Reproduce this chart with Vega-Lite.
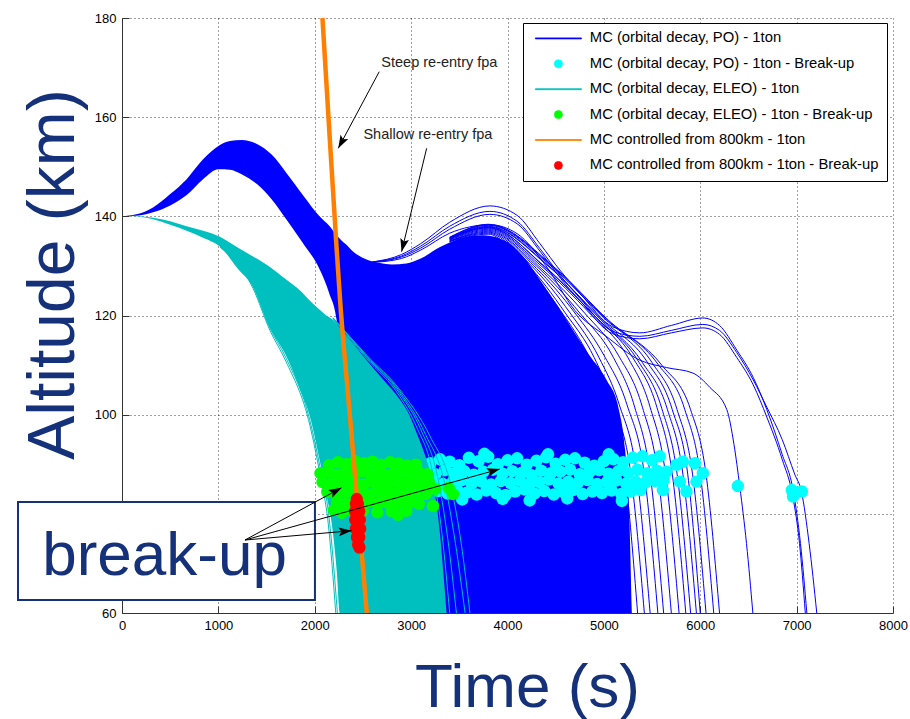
{
  "$schema": "https://vega.github.io/schema/vega-lite/v6.json",
  "width": 771,
  "height": 595,
  "autosize": {"type": "none"},
  "padding": {"left": 122, "top": 18, "right": 17, "bottom": 106},
  "background": "white",
  "config": {
    "view": {"stroke": null},
    "axis": {
      "domainColor": "#333", "domainWidth": 1,
      "tickColor": "#333", "tickWidth": 1, "tickSize": -7,
      "labelFont": "Liberation Sans", "labelFontSize": 13, "labelColor": "#000",
      "labelPadding": 13, "labelOverlap": false, "labelFlush": false,
      "grid": true, "gridColor": "#000", "gridDash": [1, 3], "gridWidth": 1, "gridOpacity": 0.75,
      "titleFont": "Liberation Sans", "titleFontSize": 62, "titleFontWeight": "normal", "titleColor": "#14317A"
    }
  },
  "datasets": {
    "poArea": [
      {"t":0,"a":140,"b":140},{"t":150,"a":140.4,"b":140.1},{"t":322,"a":141.8,"b":140.8},{"t":500,"a":144.5,"b":142.2},
      {"t":671,"a":147.5,"b":144.3},{"t":841,"a":151.5,"b":147.5},{"t":1000,"a":154.2,"b":149.5},{"t":1120,"a":155.2,"b":149.4},
      {"t":1241,"a":155.4,"b":148.5},{"t":1400,"a":154.6,"b":146.5},{"t":1550,"a":152.5,"b":143.5},{"t":1708,"a":148.7,"b":139.3},
      {"t":1880,"a":144.2,"b":134.5},{"t":2054,"a":139.9,"b":129.2},{"t":2150,"a":138.1,"b":124.5},{"t":2227,"a":136.2,"b":119.1},
      {"t":2280,"a":135.1,"b":90},{"t":2320,"a":134.4,"b":60},{"t":2397,"a":132.9,"b":60},{"t":2550,"a":131.2,"b":60},
      {"t":2676,"a":130.6,"b":60},{"t":2800,"a":130.3,"b":60},{"t":2950,"a":130.5,"b":60},{"t":3100,"a":131.5,"b":60},
      {"t":3300,"a":133.8,"b":60},{"t":3500,"a":135.5,"b":60},{"t":3750,"a":136.2,"b":60},{"t":4000,"a":134.8,"b":60},
      {"t":4200,"a":131,"b":60},{"t":4336,"a":127.2,"b":60},{"t":4500,"a":122.5,"b":60},{"t":4678,"a":117.1,"b":60},
      {"t":4850,"a":112,"b":60},{"t":5028,"a":107,"b":60},{"t":5150,"a":101.5,"b":60},{"t":5220,"a":93,"b":60},
      {"t":5260,"a":82,"b":60},{"t":5290,"a":60,"b":60}
    ],
    "poLines": [
      {"id":"L1","t":2600,"a":130.8},{"id":"L1","t":2900,"a":132.3},{"id":"L1","t":3100,"a":134.5},{"id":"L1","t":3400,"a":138.8},{"id":"L1","t":3817,"a":142.1},{"id":"L1","t":4100,"a":140.2},{"id":"L1","t":4336,"a":134.5},{"id":"L1","t":4550,"a":129},{"id":"L1","t":4751,"a":124.5},{"id":"L1","t":5093,"a":117.7},{"id":"L1","t":5373,"a":116.5},{"id":"L1","t":5700,"a":118},{"id":"L1","t":6027,"a":119.5},{"id":"L1","t":6200,"a":118},{"id":"L1","t":6380,"a":113},{"id":"L1","t":6550,"a":107.5},{"id":"L1","t":6691,"a":101},{"id":"L1","t":6850,"a":92},{"id":"L1","t":6963,"a":84.8},{"id":"L1","t":7040,"a":74},{"id":"L1","t":7106,"a":60},
      {"id":"L2","t":2600,"a":130.8},{"id":"L2","t":2900,"a":132},{"id":"L2","t":3100,"a":134},{"id":"L2","t":3400,"a":138},{"id":"L2","t":3817,"a":141},{"id":"L2","t":4100,"a":139},{"id":"L2","t":4336,"a":133.5},{"id":"L2","t":4550,"a":128},{"id":"L2","t":4751,"a":123.5},{"id":"L2","t":5093,"a":116.8},{"id":"L2","t":5373,"a":115.8},{"id":"L2","t":5700,"a":117},{"id":"L2","t":6027,"a":118.2},{"id":"L2","t":6200,"a":117},{"id":"L2","t":6380,"a":112.5},{"id":"L2","t":6550,"a":107},{"id":"L2","t":6691,"a":101.5},{"id":"L2","t":6850,"a":95},{"id":"L2","t":6980,"a":88},{"id":"L2","t":7050,"a":84.5},{"id":"L2","t":7130,"a":74},{"id":"L2","t":7209,"a":60},
      {"id":"L3","t":2600,"a":130.8},{"id":"L3","t":2900,"a":131.8},{"id":"L3","t":3100,"a":133.6},{"id":"L3","t":3400,"a":137.4},{"id":"L3","t":3817,"a":140.4},{"id":"L3","t":4100,"a":138.5},{"id":"L3","t":4336,"a":133},{"id":"L3","t":4550,"a":127.5},{"id":"L3","t":4751,"a":123},{"id":"L3","t":5093,"a":116.3},{"id":"L3","t":5373,"a":115.3},{"id":"L3","t":5700,"a":116.5},{"id":"L3","t":6027,"a":117.5},{"id":"L3","t":6200,"a":116.2},{"id":"L3","t":6380,"a":111.5},{"id":"L3","t":6550,"a":106},{"id":"L3","t":6691,"a":99.5},{"id":"L3","t":6850,"a":91},{"id":"L3","t":6960,"a":83.5},{"id":"L3","t":7030,"a":74},{"id":"L3","t":7090,"a":60},
      {"id":"L4","t":2600,"a":130.7},{"id":"L4","t":2900,"a":131.5},{"id":"L4","t":3100,"a":133.2},{"id":"L4","t":3400,"a":136.6},{"id":"L4","t":3817,"a":138.3},{"id":"L4","t":4100,"a":136.5},{"id":"L4","t":4400,"a":130},{"id":"L4","t":4700,"a":121},{"id":"L4","t":5031,"a":115.7},{"id":"L4","t":5373,"a":111},{"id":"L4","t":5650,"a":109.5},{"id":"L4","t":5923,"a":108.4},{"id":"L4","t":6100,"a":105.5},{"id":"L4","t":6276,"a":101},{"id":"L4","t":6350,"a":94},{"id":"L4","t":6411,"a":85.4},{"id":"L4","t":6480,"a":74},{"id":"L4","t":6546,"a":60},
      {"id":"M1","t":3400,"a":135},{"id":"M1","t":3800,"a":136.6},{"id":"M1","t":4200,"a":130.5},{"id":"M1","t":4600,"a":120.5},{"id":"M1","t":4900,"a":111.5},{"id":"M1","t":5100,"a":102},{"id":"M1","t":5280,"a":88},{"id":"M1","t":5420,"a":60},
      {"id":"M2","t":3400,"a":135},{"id":"M2","t":3800,"a":136.8},{"id":"M2","t":4250,"a":130},{"id":"M2","t":4650,"a":120.5},{"id":"M2","t":4950,"a":111.5},{"id":"M2","t":5160,"a":102},{"id":"M2","t":5340,"a":88},{"id":"M2","t":5480,"a":60},
      {"id":"M3","t":3400,"a":135},{"id":"M3","t":3800,"a":137},{"id":"M3","t":4300,"a":129.5},{"id":"M3","t":4700,"a":120.5},{"id":"M3","t":5000,"a":112},{"id":"M3","t":5240,"a":102},{"id":"M3","t":5420,"a":88},{"id":"M3","t":5560,"a":60},
      {"id":"M4","t":3400,"a":135.2},{"id":"M4","t":3800,"a":137.2},{"id":"M4","t":4300,"a":130},{"id":"M4","t":4750,"a":120.5},{"id":"M4","t":5100,"a":111.5},{"id":"M4","t":5320,"a":101.5},{"id":"M4","t":5480,"a":88},{"id":"M4","t":5620,"a":60},
      {"id":"M5","t":3400,"a":135.3},{"id":"M5","t":3800,"a":137.4},{"id":"M5","t":4350,"a":129.5},{"id":"M5","t":4800,"a":120.5},{"id":"M5","t":5150,"a":112},{"id":"M5","t":5400,"a":101.5},{"id":"M5","t":5560,"a":88},{"id":"M5","t":5700,"a":60},
      {"id":"M6","t":3400,"a":135.4},{"id":"M6","t":3800,"a":137.6},{"id":"M6","t":4350,"a":130},{"id":"M6","t":4850,"a":120.5},{"id":"M6","t":5250,"a":111.5},{"id":"M6","t":5480,"a":101.5},{"id":"M6","t":5640,"a":88},{"id":"M6","t":5780,"a":60},
      {"id":"M7","t":3400,"a":135.5},{"id":"M7","t":3800,"a":137.8},{"id":"M7","t":4400,"a":129.5},{"id":"M7","t":4900,"a":120},{"id":"M7","t":5300,"a":111.5},{"id":"M7","t":5550,"a":101.5},{"id":"M7","t":5710,"a":88},{"id":"M7","t":5850,"a":60},
      {"id":"M8","t":3400,"a":135.6},{"id":"M8","t":3800,"a":138},{"id":"M8","t":4400,"a":130.5},{"id":"M8","t":4950,"a":119.5},{"id":"M8","t":5400,"a":110.5},{"id":"M8","t":5660,"a":101},{"id":"M8","t":5820,"a":88},{"id":"M8","t":5960,"a":60},
      {"id":"M9","t":3400,"a":135.7},{"id":"M9","t":3800,"a":138.2},{"id":"M9","t":4450,"a":130},{"id":"M9","t":5000,"a":119.5},{"id":"M9","t":5500,"a":110.5},{"id":"M9","t":5760,"a":101},{"id":"M9","t":5920,"a":88},{"id":"M9","t":6060,"a":60},
      {"id":"M10","t":3400,"a":135.8},{"id":"M10","t":3800,"a":138.4},{"id":"M10","t":4500,"a":129.5},{"id":"M10","t":5050,"a":119},{"id":"M10","t":5600,"a":110},{"id":"M10","t":5900,"a":101},{"id":"M10","t":6060,"a":88},{"id":"M10","t":6200,"a":60},
      {"id":"M11","t":3400,"a":135.6},{"id":"M11","t":3800,"a":137.9},{"id":"M11","t":4420,"a":130},{"id":"M11","t":4980,"a":119.2},{"id":"M11","t":5450,"a":110.6},{"id":"M11","t":5710,"a":101},{"id":"M11","t":5870,"a":88},{"id":"M11","t":6000,"a":60},
      {"id":"M12","t":3400,"a":135.5},{"id":"M12","t":3800,"a":137.7},{"id":"M12","t":4380,"a":130},{"id":"M12","t":4920,"a":119.6},{"id":"M12","t":5350,"a":111},{"id":"M12","t":5600,"a":101.3},{"id":"M12","t":5760,"a":88},{"id":"M12","t":5900,"a":60},
      {"id":"M13","t":3400,"a":135.7},{"id":"M13","t":3800,"a":138.3},{"id":"M13","t":4480,"a":129.7},{"id":"M13","t":5030,"a":119.2},{"id":"M13","t":5560,"a":110.2},{"id":"M13","t":5840,"a":101},{"id":"M13","t":6000,"a":88},{"id":"M13","t":6140,"a":60},
      {"id":"M14","t":3400,"a":134.9},{"id":"M14","t":3800,"a":136.4},{"id":"M14","t":4150,"a":130.8},{"id":"M14","t":4550,"a":121},{"id":"M14","t":4850,"a":111.5},{"id":"M14","t":5050,"a":102},{"id":"M14","t":5220,"a":88},{"id":"M14","t":5350,"a":60}
    ],
    "poPts": [
      {"t":3200,"a":90.2},{"t":3300,"a":91.0},{"t":3400,"a":90.5},{"t":3500,"a":89.8},{"t":3600,"a":91.3},{"t":3700,"a":90.6},{"t":3800,"a":91.5},{"t":3900,"a":90.0},{"t":4000,"a":90.8},{"t":4100,"a":91.2},{"t":4200,"a":89.9},{"t":4300,"a":90.7},{"t":4400,"a":91.4},{"t":4500,"a":90.1},{"t":4600,"a":90.9},{"t":4700,"a":91.2},{"t":4800,"a":90.3},{"t":4900,"a":89.7},{"t":5000,"a":90.6},{"t":5100,"a":91.0},{"t":5200,"a":90.4},{"t":5300,"a":91.3},{"t":5400,"a":91.6},{"t":5500,"a":90.8},
      {"t":3150,"a":88.4},{"t":3250,"a":88.0},{"t":3350,"a":88.8},{"t":3450,"a":88.2},{"t":3550,"a":88.6},{"t":3650,"a":87.9},{"t":3750,"a":88.5},{"t":3850,"a":88.9},{"t":3950,"a":88.1},{"t":4050,"a":88.6},{"t":4150,"a":88.3},{"t":4250,"a":87.8},{"t":4350,"a":88.7},{"t":4450,"a":88.2},{"t":4550,"a":88.5},{"t":4650,"a":88.9},{"t":4750,"a":88.0},{"t":4850,"a":88.4},{"t":4950,"a":88.8},{"t":5050,"a":88.1},{"t":5150,"a":88.6},{"t":5250,"a":88.3},{"t":5350,"a":88.9},{"t":5450,"a":88.2},{"t":5550,"a":88.7},
      {"t":3230,"a":86.5},{"t":3330,"a":86.0},{"t":3430,"a":86.4},{"t":3530,"a":86.8},{"t":3630,"a":86.1},{"t":3730,"a":86.5},{"t":3830,"a":85.9},{"t":3930,"a":86.6},{"t":4030,"a":86.2},{"t":4130,"a":86.7},{"t":4230,"a":86.0},{"t":4330,"a":86.4},{"t":4430,"a":86.9},{"t":4530,"a":86.1},{"t":4630,"a":86.5},{"t":4730,"a":86.2},{"t":4830,"a":86.8},{"t":4930,"a":86.0},{"t":5030,"a":86.4},{"t":5130,"a":86.7},{"t":5230,"a":86.1},{"t":5330,"a":86.5},{"t":5430,"a":86.3},{"t":5530,"a":86.6},
      {"t":3280,"a":84.6},{"t":3380,"a":84.1},{"t":3480,"a":84.8},{"t":3580,"a":84.3},{"t":3680,"a":83.9},{"t":3780,"a":84.7},{"t":3880,"a":84.2},{"t":3980,"a":83.8},{"t":4080,"a":84.5},{"t":4180,"a":84.9},{"t":4280,"a":84.1},{"t":4380,"a":84.6},{"t":4480,"a":83.9},{"t":4580,"a":84.4},{"t":4680,"a":84.8},{"t":4780,"a":84.0},{"t":4880,"a":84.5},{"t":4980,"a":84.2},{"t":5080,"a":84.7},{"t":5180,"a":84.0},{"t":5280,"a":84.5},{"t":5380,"a":84.8},
      {"t":3530,"a":82.9},{"t":3950,"a":83.0},{"t":4230,"a":82.7},{"t":4620,"a":83.1},{"t":5187,"a":82.6},{"t":4420,"a":92.0},{"t":3760,"a":92.1},{"t":5050,"a":92.0},
      {"t":5580,"a":91.6},{"t":5612,"a":84.8},{"t":5650,"a":88.5},{"t":5620,"a":86.8},{"t":5754,"a":89.9},{"t":5788,"a":86.5},{"t":5857,"a":84.5},{"t":5820,"a":90.5},{"t":5944,"a":90.2},{"t":5961,"a":86.5},{"t":6027,"a":88.2},{"t":6390,"a":85.6},{"t":6950,"a":84.8},{"t":7054,"a":84.5},{"t":6963,"a":83.5}
    ],
    "eleoArea": [
      {"t":0,"a":140,"b":140},{"t":150,"a":140,"b":139.95},{"t":322,"a":139.7,"b":139.4},{"t":500,"a":139,"b":138.3},
      {"t":671,"a":138,"b":137.1},{"t":841,"a":137.1,"b":135.7},{"t":1016,"a":135.9,"b":133.9},{"t":1200,"a":133.7,"b":129.5},
      {"t":1359,"a":131.9,"b":125.8},{"t":1535,"a":129.8,"b":117.5},{"t":1700,"a":127.3,"b":112},{"t":1850,"a":125,"b":105},
      {"t":1950,"a":123,"b":99.6},{"t":2054,"a":121.1,"b":90.5},{"t":2120,"a":120,"b":84},{"t":2189,"a":119.1,"b":76.1},
      {"t":2230,"a":118.2,"b":68},{"t":2261,"a":117.5,"b":60},{"t":2400,"a":114.3,"b":60},{"t":2538,"a":111,"b":60},
      {"t":2700,"a":107.3,"b":60},{"t":2884,"a":103,"b":60},{"t":2980,"a":100,"b":60},{"t":3057,"a":96.3,"b":60},
      {"t":3150,"a":91.5,"b":60},{"t":3226,"a":86.2,"b":60},{"t":3270,"a":81,"b":60},{"t":3299,"a":76.1,"b":60},
      {"t":3335,"a":68,"b":60},{"t":3368,"a":60,"b":60}
    ],
    "eleoLines": [
      {"id":"C1","t":1016,"a":134},{"id":"C1","t":1359,"a":126},{"id":"C1","t":1535,"a":117.5},{"id":"C1","t":1700,"a":111.5},{"id":"C1","t":1950,"a":98.8},{"id":"C1","t":2054,"a":89.5},{"id":"C1","t":2150,"a":79},{"id":"C1","t":2235,"a":60},
      {"id":"C2","t":1016,"a":133.8},{"id":"C2","t":1359,"a":125.5},{"id":"C2","t":1535,"a":117},{"id":"C2","t":1700,"a":110.8},{"id":"C2","t":1950,"a":97.8},{"id":"C2","t":2054,"a":88},{"id":"C2","t":2140,"a":78},{"id":"C2","t":2218,"a":60},
      {"id":"C3","t":2189,"a":119.2},{"id":"C3","t":2538,"a":111.3},{"id":"C3","t":2884,"a":103.6},{"id":"C3","t":3057,"a":97.5},{"id":"C3","t":3226,"a":88},{"id":"C3","t":3320,"a":76},{"id":"C3","t":3400,"a":60},
      {"id":"C4","t":2189,"a":119.4},{"id":"C4","t":2538,"a":111.6},{"id":"C4","t":2884,"a":104.2},{"id":"C4","t":3100,"a":97},{"id":"C4","t":3280,"a":87},{"id":"C4","t":3380,"a":75},{"id":"C4","t":3470,"a":60},
      {"id":"C5","t":2189,"a":119.5},{"id":"C5","t":2538,"a":111.8},{"id":"C5","t":2884,"a":104.6},{"id":"C5","t":3150,"a":96},{"id":"C5","t":3350,"a":86},{"id":"C5","t":3460,"a":74},{"id":"C5","t":3560,"a":60},
      {"id":"C6","t":2189,"a":119.6},{"id":"C6","t":2538,"a":112},{"id":"C6","t":2884,"a":105},{"id":"C6","t":3200,"a":95.5},{"id":"C6","t":3420,"a":85},{"id":"C6","t":3520,"a":74},{"id":"C6","t":3610,"a":60}
    ],
    "eleoPts": [
      {"t":2150,"a":89.8},{"t":2240,"a":90.4},{"t":2330,"a":90.0},{"t":2420,"a":90.6},{"t":2510,"a":90.2},{"t":2600,"a":90.5},{"t":2690,"a":89.9},{"t":2780,"a":90.4},{"t":2870,"a":90.1},{"t":2960,"a":89.7},{"t":3050,"a":89.9},
      {"t":2060,"a":88.2},{"t":2145,"a":88.5},{"t":2230,"a":87.9},{"t":2315,"a":88.4},{"t":2400,"a":88.0},{"t":2485,"a":88.6},{"t":2570,"a":88.1},{"t":2655,"a":88.4},{"t":2740,"a":87.8},{"t":2825,"a":88.3},{"t":2910,"a":88.6},{"t":2995,"a":88.0},{"t":3080,"a":88.4},{"t":3165,"a":88.0},
      {"t":2080,"a":86.4},{"t":2165,"a":86.0},{"t":2250,"a":86.5},{"t":2335,"a":86.1},{"t":2420,"a":86.3},{"t":2505,"a":85.9},{"t":2590,"a":86.6},{"t":2675,"a":86.2},{"t":2760,"a":86.0},{"t":2845,"a":86.5},{"t":2930,"a":86.1},{"t":3015,"a":86.4},{"t":3100,"a":86.0},{"t":3185,"a":86.3},
      {"t":2130,"a":84.4},{"t":2215,"a":84.0},{"t":2300,"a":84.5},{"t":2385,"a":84.1},{"t":2470,"a":84.3},{"t":2555,"a":83.9},{"t":2640,"a":84.6},{"t":2725,"a":84.2},{"t":2810,"a":84.0},{"t":2895,"a":84.5},{"t":2980,"a":84.1},{"t":3065,"a":84.4},{"t":3150,"a":84.0},
      {"t":2230,"a":82.4},{"t":2315,"a":82.0},{"t":2400,"a":82.3},{"t":2485,"a":81.9},{"t":2570,"a":82.5},{"t":2655,"a":82.1},{"t":2740,"a":82.3},{"t":2825,"a":81.8},{"t":2910,"a":82.2},{"t":2995,"a":82.4},{"t":3080,"a":82.0},
      {"t":2500,"a":80.6},{"t":2650,"a":80.3},{"t":2800,"a":80.5},{"t":2863,"a":79.8},{"t":2950,"a":80.6},{"t":2380,"a":80.8},{"t":2200,"a":80.8},{"t":2280,"a":80.2},
      {"t":3226,"a":81.6},{"t":3434,"a":84.0},{"t":3390,"a":85.2},{"t":3250,"a":85.0}
    ],
    "ctrl": [
      {"t":2080,"a":180},{"t":2155,"a":156},{"t":2227,"a":133.5},{"t":2265,"a":122.5},{"t":2350,"a":103},{"t":2432,"a":84.5},{"t":2470,"a":76},{"t":2540,"a":60}
    ],
    "ctrlPts": [
      {"t":2436,"a":83.0},{"t":2426,"a":82.0},{"t":2448,"a":82.0},{"t":2418,"a":80.5},{"t":2440,"a":80.5},{"t":2462,"a":80.5},{"t":2420,"a":78.8},{"t":2444,"a":78.8},{"t":2468,"a":78.8},{"t":2426,"a":77.0},{"t":2450,"a":77.0},{"t":2472,"a":77.0},{"t":2438,"a":75.3},{"t":2462,"a":75.3},{"t":2450,"a":73.8},{"t":2464,"a":73.2}
    ],
    "arrows": [
      {"t":2669,"a":169.17,"t2":2244,"a2":153.72,"angle":208.2},
      {"t":3161,"a":153.72,"t2":2901,"a2":132.87,"angle":193.6},
      {"t":1276,"a":74.72,"t2":2279,"a2":85.27,"angle":61.6},
      {"t":1276,"a":74.72,"t2":2383,"a2":76.6,"angle":85.0},
      {"t":1276,"a":74.72,"t2":3921,"a2":89.04,"angle":74.4}
    ],
    "notes": [
      {"t":3293,"a":170.98,"label":"Steep re-entry fpa"},
      {"t":3174,"a":156.4,"label":"Shallow re-entry fpa"}
    ],
    "box": [
      {"t":-1079,"t2":2002,"a":82.39,"a2":62.62,"label":"break-up","lt":441,"la":67.67}
    ]
  },
  "layer": [
    {
      "data": {"name": "poArea"},
      "mark": {"type": "area", "interpolate": "monotone", "opacity": 1},
      "encoding": {
        "x": {"field": "t", "type": "quantitative", "scale": {"domain": [0, 8000], "nice": false, "zero": false},
              "axis": {"values": [0,1000,2000,3000,4000,5000,6000,7000,8000], "format": "d", "title": "Time (s)",
                       "titleX": 405, "titleY": 93, "titleAlign": "center", "titleBaseline": "alphabetic"}},
        "y": {"field": "a", "type": "quantitative", "scale": {"domain": [60, 180], "nice": false, "zero": false},
              "axis": {"values": [60,80,100,120,140,160,180], "format": "d", "labelExpr": "datum.value == 80 ? '' : datum.label",
                       "title": "Altitude (km)", "titleFontSize": 66,
                       "titleX": -49, "titleY": 256, "titleAngle": -90, "titleAlign": "center", "titleBaseline": "alphabetic"}},
        "y2": {"field": "b"},
        "color": {
          "datum": "MC (orbital decay, PO) - 1ton", "type": "nominal",
          "scale": {
            "domain": ["MC (orbital decay, PO) - 1ton", "MC (orbital decay, PO) - 1ton - Break-up", "MC (orbital decay, ELEO) - 1ton", "MC (orbital decay, ELEO) - 1ton - Break-up", "MC controlled from 800km - 1ton", "MC controlled from 800km - 1ton - Break-up"],
            "range": ["#0000FF", "#00FFFF", "#00BFBF", "#00FF00", "#FF8000", "#FF0000"]
          },
          "legend": {
            "title": null, "orient": "none", "legendX": 401, "legendY": 5,
            "fillColor": "white", "strokeColor": "#000", "padding": 8, "cornerRadius": 0,
            "symbolOffset": 20, "labelOffset": 24, "rowPadding": 9.4,
            "labelFont": "Liberation Sans", "labelFontSize": 14.8, "labelColor": "#000", "labelLimit": 500,
            "symbolSize": 64, "symbolStrokeWidth": 0.8, "symbolOpacity": 1
          }
        }
      }
    },
    {
      "data": {"name": "poLines"},
      "mark": {"type": "line", "interpolate": "monotone", "strokeWidth": 1},
      "encoding": {
        "x": {"field": "t", "type": "quantitative"},
        "y": {"field": "a", "type": "quantitative"},
        "detail": {"field": "id"},
        "color": {"datum": "MC (orbital decay, PO) - 1ton", "type": "nominal"}
      }
    },
    {
      "data": {"name": "poPts"},
      "mark": {"type": "point", "filled": true, "size": 155, "opacity": 1, "strokeWidth": 0},
      "encoding": {
        "x": {"field": "t", "type": "quantitative"},
        "y": {"field": "a", "type": "quantitative"},
        "color": {"datum": "MC (orbital decay, PO) - 1ton - Break-up", "type": "nominal"},
        "shape": {
          "datum": "MC (orbital decay, PO) - 1ton - Break-up", "type": "nominal",
          "scale": {
            "domain": ["MC (orbital decay, PO) - 1ton", "MC (orbital decay, PO) - 1ton - Break-up", "MC (orbital decay, ELEO) - 1ton", "MC (orbital decay, ELEO) - 1ton - Break-up", "MC controlled from 800km - 1ton", "MC controlled from 800km - 1ton - Break-up"],
            "range": ["M-5.75,-0.12H5.75V0.12H-5.75Z", "circle", "M-5.75,-0.12H5.75V0.12H-5.75Z", "circle", "M-5.75,-0.12H5.75V0.12H-5.75Z", "circle"]
          }
        }
      }
    },
    {
      "data": {"name": "eleoArea"},
      "mark": {"type": "area", "interpolate": "monotone", "opacity": 1},
      "encoding": {
        "x": {"field": "t", "type": "quantitative"},
        "y": {"field": "a", "type": "quantitative"},
        "y2": {"field": "b"},
        "color": {"datum": "MC (orbital decay, ELEO) - 1ton", "type": "nominal"}
      }
    },
    {
      "data": {"name": "eleoLines"},
      "mark": {"type": "line", "interpolate": "monotone", "strokeWidth": 1},
      "encoding": {
        "x": {"field": "t", "type": "quantitative"},
        "y": {"field": "a", "type": "quantitative"},
        "detail": {"field": "id"},
        "color": {"datum": "MC (orbital decay, ELEO) - 1ton", "type": "nominal"}
      }
    },
    {
      "data": {"name": "eleoPts"},
      "mark": {"type": "point", "filled": true, "size": 155, "opacity": 1, "strokeWidth": 0},
      "encoding": {
        "x": {"field": "t", "type": "quantitative"},
        "y": {"field": "a", "type": "quantitative"},
        "color": {"datum": "MC (orbital decay, ELEO) - 1ton - Break-up", "type": "nominal"},
        "shape": {"datum": "MC (orbital decay, ELEO) - 1ton - Break-up", "type": "nominal"}
      }
    },
    {
      "data": {"name": "ctrl"},
      "mark": {"type": "line", "interpolate": "monotone", "strokeWidth": 4.5},
      "encoding": {
        "x": {"field": "t", "type": "quantitative"},
        "y": {"field": "a", "type": "quantitative"},
        "color": {"datum": "MC controlled from 800km - 1ton", "type": "nominal"}
      }
    },
    {
      "data": {"name": "ctrlPts"},
      "mark": {"type": "point", "filled": true, "size": 150, "opacity": 1, "strokeWidth": 0},
      "encoding": {
        "x": {"field": "t", "type": "quantitative"},
        "y": {"field": "a", "type": "quantitative"},
        "color": {"datum": "MC controlled from 800km - 1ton - Break-up", "type": "nominal"},
        "shape": {"datum": "MC controlled from 800km - 1ton - Break-up", "type": "nominal"}
      }
    },
    {
      "data": {"name": "box"},
      "mark": {"type": "rect", "fill": "white", "stroke": "#14317A", "strokeWidth": 2},
      "encoding": {
        "x": {"field": "t", "type": "quantitative"},
        "x2": {"field": "t2"},
        "y": {"field": "a", "type": "quantitative"},
        "y2": {"field": "a2"}
      }
    },
    {
      "data": {"name": "box"},
      "mark": {"type": "text", "font": "Liberation Sans", "fontSize": 62, "color": "#14317A", "align": "center", "baseline": "alphabetic"},
      "encoding": {
        "x": {"field": "lt", "type": "quantitative"},
        "y": {"field": "la", "type": "quantitative"},
        "text": {"field": "label"}
      }
    },
    {
      "data": {"name": "arrows"},
      "mark": {"type": "rule", "color": "#000", "strokeWidth": 1},
      "encoding": {
        "x": {"field": "t", "type": "quantitative"},
        "y": {"field": "a", "type": "quantitative"},
        "x2": {"field": "t2"},
        "y2": {"field": "a2"}
      }
    },
    {
      "data": {"name": "arrows"},
      "mark": {"type": "point", "shape": "M0,0L-1.1,3.25L0,2.6L1.1,3.25Z", "filled": true, "size": 64, "color": "#000", "opacity": 1, "strokeWidth": 0},
      "encoding": {
        "x": {"field": "t2", "type": "quantitative"},
        "y": {"field": "a2", "type": "quantitative"},
        "angle": {"field": "angle", "type": "quantitative", "scale": null}
      }
    },
    {
      "data": {"name": "notes"},
      "mark": {"type": "text", "font": "Liberation Sans", "fontSize": 14.5, "color": "#222", "align": "center", "baseline": "middle"},
      "encoding": {
        "x": {"field": "t", "type": "quantitative"},
        "y": {"field": "a", "type": "quantitative"},
        "text": {"field": "label"}
      }
    }
  ]
}
